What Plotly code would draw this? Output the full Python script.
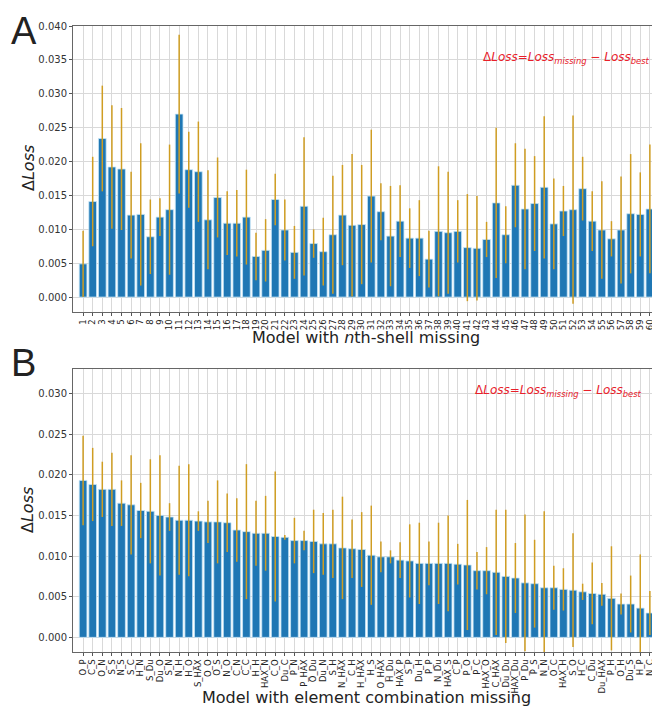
import plotly.graph_objects as go

# Panel A data
shell_labels = [str(i) for i in range(1, 61)]
shell_values = [0.0049, 0.0141, 0.0234, 0.0192, 0.0189, 0.0121, 0.0122, 0.0089, 0.0118, 0.0129,
                0.0270, 0.0188, 0.0185, 0.0114, 0.0147, 0.0109, 0.0109, 0.0118, 0.0060, 0.0069,
                0.0144, 0.0099, 0.0066, 0.0134, 0.0079, 0.0067, 0.0092, 0.0121, 0.0106, 0.0107,
                0.0149, 0.0126, 0.0090, 0.0112, 0.0087, 0.0087, 0.0056, 0.0097, 0.0095, 0.0097,
                0.0073, 0.0072, 0.0085, 0.0139, 0.0092, 0.0165, 0.0130, 0.0138, 0.0162, 0.0108,
                0.0127, 0.0129, 0.0160, 0.0112, 0.0099, 0.0086, 0.0099, 0.0123, 0.0122, 0.0130]
shell_err_top = [0.0098, 0.0207, 0.0312, 0.0283, 0.0279, 0.0185, 0.0227, 0.0144, 0.0146, 0.0225,
                 0.0387, 0.0244, 0.0259, 0.0187, 0.0206, 0.0156, 0.0158, 0.0188, 0.0095, 0.0115,
                 0.0182, 0.0144, 0.0105, 0.0236, 0.0100, 0.0117, 0.0179, 0.0195, 0.0211, 0.0195,
                 0.0247, 0.0168, 0.0164, 0.0165, 0.0131, 0.0143, 0.0098, 0.0193, 0.0185, 0.0143,
                 0.0152, 0.0149, 0.0111, 0.0250, 0.0134, 0.0227, 0.0219, 0.0208, 0.0267, 0.0175,
                 0.0164, 0.0268, 0.0207, 0.0156, 0.0171, 0.0112, 0.0178, 0.0211, 0.0184, 0.0225]

# Panel B data
combo_labels = ["O_P", "C_S", "O_N", "S_S", "N_S", "S_C", "H_N", "S_Du", "Du_O", "S_N",
                "N_H", "H_O", "S_HAX", "O_O", "O_S", "N_O", "C_N", "C_C", "H_H", "HAX_N",
                "C_O", "Du_C", "P_N", "P_HAX", "O_Du", "Du_N", "S_H", "N_HAX", "C_H", "H_HAX",
                "H_S", "O_HAX", "H_Du", "HAX_P", "S_P", "Du_H", "P_P", "N_Du", "HAX_S", "C_P",
                "P_O", "P_C", "HAX_O", "C_HAX", "Du_Du", "HAX_Du", "P_Du", "P_S", "N_N", "O_C",
                "HAX_H", "S_O", "H_C", "C_Du", "Du_HAX", "P_H", "O_H", "Du_S", "H_P", "N_C"]
combo_values = [0.0193, 0.0188, 0.0182, 0.0182, 0.0165, 0.0163, 0.0156, 0.0155, 0.0150, 0.0148,
                0.0144, 0.0144, 0.0143, 0.0142, 0.0142, 0.0141, 0.0132, 0.0130, 0.0128, 0.0128,
                0.0124, 0.0123, 0.0119, 0.0119, 0.0118, 0.0115, 0.0115, 0.0110, 0.0109, 0.0108,
                0.0101, 0.0099, 0.0099, 0.0095, 0.0094, 0.0091, 0.0091, 0.0091, 0.0091, 0.0090,
                0.0089, 0.0082, 0.0082, 0.0080, 0.0075, 0.0073, 0.0067, 0.0066, 0.0061, 0.0061,
                0.0059, 0.0058, 0.0056, 0.0054, 0.0053, 0.0048, 0.0041, 0.0041, 0.0036, 0.0030]
combo_err_top = [0.0248, 0.0233, 0.0216, 0.0227, 0.0193, 0.0224, 0.0190, 0.0219, 0.0224, 0.0165,
                 0.0211, 0.0213, 0.0155, 0.0168, 0.0193, 0.0177, 0.0171, 0.0213, 0.0168, 0.0174,
                 0.0204, 0.0126, 0.0147, 0.0131, 0.0157, 0.0153, 0.0157, 0.0173, 0.0145, 0.0154,
                 0.0162, 0.0118, 0.0107, 0.0117, 0.0139, 0.0141, 0.0118, 0.0141, 0.0150, 0.0115,
                 0.0169, 0.0105, 0.0111, 0.0157, 0.0157, 0.0116, 0.0151, 0.0120, 0.0155, 0.0088,
                 0.0085, 0.0128, 0.0066, 0.0092, 0.0067, 0.0112, 0.0054, 0.0076, 0.0102, 0.0057]

shell_err = [t - v for t, v in zip(shell_err_top, shell_values)]
combo_err = [t - v for t, v in zip(combo_err_top, combo_values)]

BAR = "#1f77b4"
EDGE = "#c6e6f8"
ERR = "#cf9d22"
FONT = "DejaVu Sans"

fig = go.Figure()
fig.add_trace(go.Bar(x=shell_labels, y=shell_values, width=0.8,
                     marker=dict(color=BAR, line=dict(color=EDGE, width=0.8)),
                     error_y=dict(type="data", array=shell_err, color=ERR, thickness=1.5, width=0),
                     xaxis="x", yaxis="y", showlegend=False))
fig.add_trace(go.Bar(x=combo_labels, y=combo_values, width=0.8,
                     marker=dict(color=BAR, line=dict(color=EDGE, width=0.8)),
                     error_y=dict(type="data", array=combo_err, color=ERR, thickness=1.5, width=0),
                     xaxis="x2", yaxis="y2", showlegend=False))

# The page body has an 8px margin, so the figure is sized/placed to compensate.
OFF = 8
W, H = 660 - OFF, 712 - OFF
def xp(v):
    return (v - OFF) / W
def yp(v):
    return 1 - (v - OFF) / H

common_x = dict(type="category", showgrid=True, gridcolor="#d9d9d9", gridwidth=1,
                tickangle=-90, tickfont=dict(size=8.5, color="#222", family=FONT),
                ticks="outside", ticklen=3, tickcolor="#555", automargin=False,
                showline=True, linecolor="#666", linewidth=1, mirror=True,
                range=[-1.05, 59.95], zeroline=False)
common_y = dict(showgrid=True, gridcolor="#d9d9d9", gridwidth=1, dtick=0.005,
                tickformat=".3f", tickfont=dict(size=10, color="#333", family=FONT),
                ticks="outside", ticklen=3, tickcolor="#555", automargin=False,
                showline=True, linecolor="#666", linewidth=1, mirror=True, zeroline=False)

fig.update_layout(
    width=W, height=H,
    margin=dict(l=0, r=0, t=0, b=0, autoexpand=False),
    paper_bgcolor="white", plot_bgcolor="white",
    font=dict(family=FONT, color="#222"),
    bargap=0.2,
    xaxis=dict(domain=[xp(73), xp(659)], anchor="y", tickmode="array",
               tickvals=shell_labels, ticktext=shell_labels, **common_x),
    yaxis=dict(domain=[yp(312), yp(26)], anchor="x", range=[-0.0022, 0.040], **common_y),
    xaxis2=dict(domain=[xp(73), xp(659)], anchor="y2", tickmode="array",
                tickvals=combo_labels, ticktext=combo_labels, **common_x),
    yaxis2=dict(domain=[yp(652), yp(369)], anchor="x2", range=[-0.0018, 0.033], **common_y),
)

red_text = "Δ<i>Loss</i>=<i>Loss</i><sub><i>missing</i></sub> − <i>Loss</i><sub><i>best</i></sub>"
annots = [
    dict(text="A", x=xp(9), y=yp(8), xanchor="left", yanchor="top",
         font=dict(size=38, family="Liberation Sans")),
    dict(text="B", x=xp(9), y=yp(340), xanchor="left", yanchor="top",
         font=dict(size=38, family="Liberation Sans")),
    dict(text="Model with <i>n</i>th-shell missing", x=xp((73 + 659) / 2), y=yp(337),
         xanchor="center", yanchor="middle", font=dict(size=16)),
    dict(text="Model with element combination missing", x=xp((73 + 659) / 2), y=yp(697),
         xanchor="center", yanchor="middle", font=dict(size=16)),
    dict(text="Δ<i>Loss</i>", x=xp(28), y=yp(168), textangle=-90, xanchor="center", yanchor="middle",
         font=dict(size=16)),
    dict(text="Δ<i>Loss</i>", x=xp(28), y=yp(510), textangle=-90, xanchor="center", yanchor="middle",
         font=dict(size=16)),
    dict(text=red_text, x=xp(652), y=yp(58), xanchor="right", yanchor="middle",
         font=dict(size=12, color="#e8202a")),
    dict(text=red_text, x=xp(644), y=yp(391), xanchor="right", yanchor="middle",
         font=dict(size=12, color="#e8202a")),
]
for a in annots:
    a.update(xref="paper", yref="paper", showarrow=False)
fig.update_layout(annotations=annots)

fig.write_html("out.html")
